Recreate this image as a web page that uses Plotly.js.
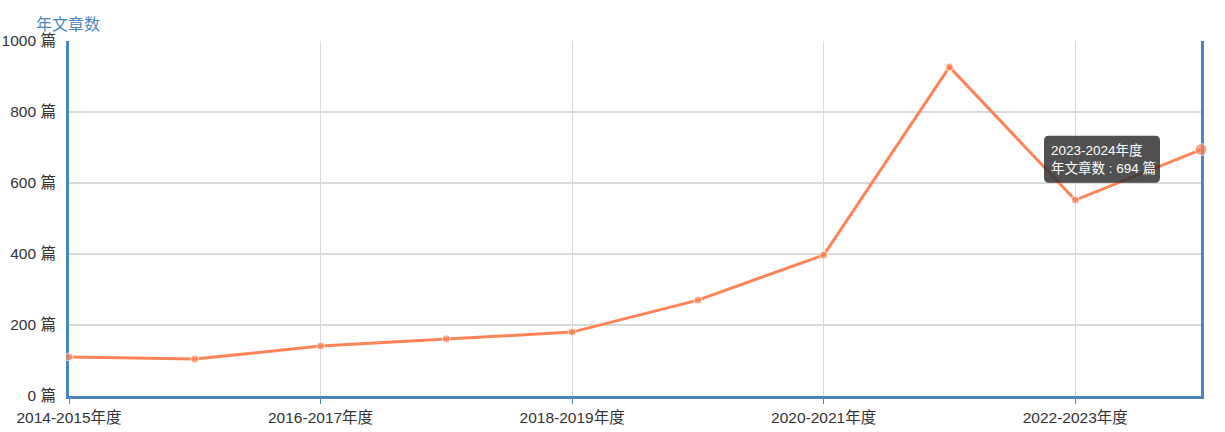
<!DOCTYPE html>
<html>
<head>
<meta charset="utf-8">
<script src="https://cdn.plot.ly/plotly-3.0.1.min.js"></script>
<style>html,body{margin:0;padding:0;background:#fff;}#chart{width:1225px;height:432px;}</style>
</head>
<body>
<div id="chart"></div>
<script>
const categories = ['2014-2015年度','2015-2016年度','2016-2017年度','2017-2018年度','2018-2019年度','2019-2020年度','2020-2021年度','2021-2022年度','2022-2023年度','2023-2024年度'];
const articleCounts = [110, 104, 141, 161, 180, 270, 397, 927, 552, 694];
const tickLabels = ['2014-2015年度','2016-2017年度','2018-2019年度','2020-2021年度','2022-2023年度'];
const yTickValues = [0, 200, 400, 600, 800, 1000];
const seriesName = '年文章数';
const unit = '篇';

const FONT = 'Liberation Sans, Arial, Noto Sans CJK SC, sans-serif';
const lastIdx = categories.length - 1;
const markerSizes = articleCounts.map((v, i) => i === lastIdx ? 12 : 8);

const trace = {
  x: categories,
  y: articleCounts,
  type: 'scatter',
  mode: 'lines+markers',
  cliponaxis: false,
  line: {color: '#FF8357', width: 3},
  marker: {color: '#FF8357', size: markerSizes},
  hoverinfo: 'skip'
};

const layout = {
  width: 1225, height: 432,
  margin: {l: 69, r: 24, t: 41, b: 36},
  paper_bgcolor: '#fff', plot_bgcolor: '#fff',
  showlegend: false,
  font: {family: FONT, size: 14, color: '#333'},
  xaxis: {
    type: 'category',
    range: [0, lastIdx],
    tickmode: 'array',
    tickvals: tickLabels,
    ticktext: tickLabels,
    layer: 'below traces',
    showgrid: true, gridcolor: '#d9d9d9', gridwidth: 1,
    showline: true, linecolor: '#4A86BF', linewidth: 3,
    ticks: 'outside', ticklen: 5, tickcolor: '#4A86BF', tickwidth: 1,
    tickfont: {family: FONT, size: 15.5, color: '#333'},
    zeroline: false, fixedrange: true
  },
  yaxis: {
    range: [0, 1000],
    tickmode: 'array',
    tickvals: yTickValues,
    ticktext: yTickValues.map(v => v + ' ' + unit),
    layer: 'below traces',
    showgrid: true, gridcolor: '#d9d9d9', gridwidth: 2,
    showline: true, linecolor: '#4A86BF', linewidth: 3, mirror: true,
    ticks: '', ticklabelstandoff: 7,
    tickfont: {family: FONT, size: 15.5, color: '#333'},
    zeroline: false, fixedrange: true
  },
  shapes: [
    {
      type: 'path', layer: 'above',
      xref: 'x', yref: 'y', xsizemode: 'pixel', ysizemode: 'pixel',
      xanchor: categories[lastIdx], yanchor: articleCounts[lastIdx],
      path: 'M -152,14 L -46,14 Q -41,14 -41,9 L -41,-28 Q -41,-33 -46,-33 L -152,-33 Q -157,-33 -157,-28 L -157,9 Q -157,14 -152,14 Z',
      fillcolor: 'rgba(50,50,50,0.85)', line: {width: 0}
    }
  ],
  annotations: [
    {
      xref: 'paper', yref: 'paper', x: 0, y: 1,
      xanchor: 'center', yanchor: 'bottom', xshift: -1, yshift: 6,
      text: seriesName, showarrow: false,
      font: {family: FONT, size: 16, color: '#4A86BF'}
    },
    {
      xref: 'x', yref: 'y', x: categories[lastIdx], y: articleCounts[lastIdx],
      xanchor: 'left', yanchor: 'middle', xshift: -152, yshift: -10,
      text: categories[lastIdx] + '<br>' + seriesName + ' : ' + articleCounts[lastIdx] + ' ' + unit,
      align: 'left', showarrow: false,
      font: {family: FONT, size: 13.5, color: '#fff'}
    }
  ]
};

Plotly.newPlot('chart', [trace], layout, {displayModeBar: false, staticPlot: true});
</script>
</body>
</html>
